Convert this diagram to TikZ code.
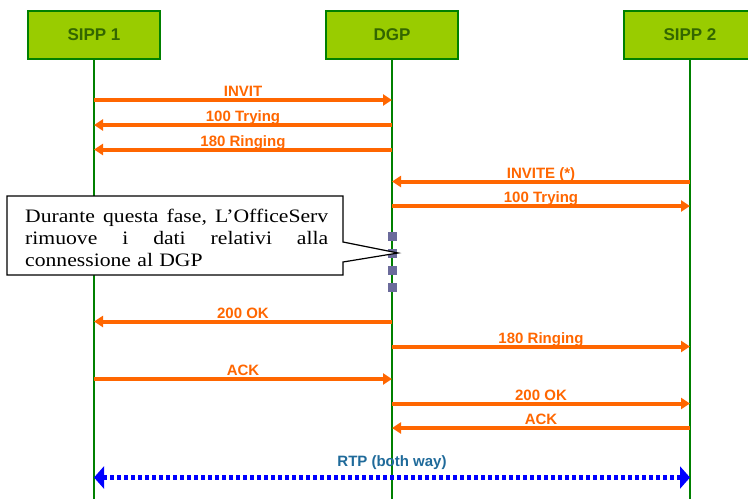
\documentclass[tikz,border=0pt]{standalone}
\usepackage{fontspec}
\setmainfont{Liberation Sans}
\newfontfamily\notefont[FakeStretch=1.14]{Liberation Serif}
\usetikzlibrary{arrows.meta}

\definecolor{boxfill}{HTML}{99CC00}
\definecolor{lifegreen}{HTML}{008000}
\definecolor{titlegreen}{HTML}{336600}
\definecolor{msgorange}{HTML}{FF6600}
\definecolor{rtpblue}{HTML}{0000FF}
\definecolor{rtptext}{HTML}{1F6A9A}
\definecolor{markslate}{HTML}{6B6B9B}

% one message between two lifelines at height #3
\newcommand\sendmsg[5]{%
  \draw[msg] (#1.south |- 0,#3) -- (#2.south |- 0,#3)
    node[midway, msglabel] (#5) {#4};}

\begin{document}
\begin{tikzpicture}[x=1pt, y=-1pt,
  entity/.style={draw=lifegreen, line width=2.5pt, fill=boxfill,
    minimum width=132pt, minimum height=48pt, inner sep=0pt,
    font=\fontsize{17}{20}\selectfont\bfseries, text=titlegreen},
  lifeline/.style={draw=lifegreen, line width=2.5pt},
  msg/.style={draw=msgorange, line width=4pt,
    -{Triangle[length=9pt,width=11pt]}},
  msglabel/.style={font=\fontsize{15}{17}\selectfont\bfseries,
    text=msgorange, anchor=base, inner sep=0pt, yshift=3.5pt},
  rtp/.style={draw=rtpblue, line width=5pt, dash pattern=on 4pt off 3pt,
    {Triangle[length=10pt,width=22pt]}-{Triangle[length=10pt,width=22pt]}},
  marker/.style={fill=markslate, minimum size=9pt, inner sep=0pt},
  notebox/.style={fill=white, draw=black, line width=1.2pt, line join=miter}]

\useasboundingbox (0,0) rectangle (748,499);
\clip (0,0) rectangle (748,499);

% participants
\node[entity] (s1)  at (94,35)  {SIPP 1};
\node[entity] (dgp) at (392,35) {DGP};
\node[entity] (s2)  at (690,35) {SIPP 2};

% lifelines
\coordinate (s1end)  at (s1.south |- 0,499);
\coordinate (dgpend) at (dgp.south |- 0,499);
\coordinate (s2end)  at (s2.south |- 0,499);
\draw[lifeline] (s1.south) -- (s1end);
\draw[lifeline] (dgp.south) -- (dgpend);
\draw[lifeline] (s2.south) -- (s2end);

% first call leg
\sendmsg{s1}{dgp}{100}{INVIT}{l1}
\sendmsg{dgp}{s1}{125}{100 Trying}{l2}
\sendmsg{dgp}{s1}{149.5}{180 Ringing}{l3}
\sendmsg{s2}{dgp}{181.5}{INVITE (*)}{l4}
\sendmsg{dgp}{s2}{206}{100 Trying}{l5}

% pause on the DGP lifeline
\node[marker] (m1) at (392,236) {};
\node[marker] (m2) at (392,253) {};
\node[marker] (m3) at (392,270) {};
\node[marker] (m4) at (392,287) {};

% note with its pointer
\coordinate (tip) at (398,253);
\draw[notebox] (7,196) -- (343,196) -- (343,242) -- (tip) -- (343,262)
  -- (343,275) -- (7,275) -- cycle;
\node[anchor=base west, text width=303pt, align=left, inner sep=0pt,
  font=\notefont\fontsize{19}{22}\selectfont] (note) at (25,222)
  {\makebox[303pt][l]{Durante\hfill questa\hfill fase,\hfill L’OfficeServ}\\
   \makebox[303pt][l]{rimuove\hfill i\hfill dati\hfill relativi\hfill alla}\\
   connessione al DGP};

% second part of the call
\sendmsg{dgp}{s1}{321.5}{200 OK}{l6}
\sendmsg{dgp}{s2}{346.5}{180 Ringing}{l7}
\sendmsg{s1}{dgp}{379}{ACK}{l8}
\sendmsg{dgp}{s2}{403.5}{200 OK}{l9}
\sendmsg{s2}{dgp}{428}{ACK}{l10}

% media stream
\draw[rtp] (s1.south |- 0,477.5) -- (s2.south |- 0,477.5)
  node[midway, anchor=base, yshift=11.5pt, inner sep=0pt,
    font=\fontsize{15}{17}\selectfont\bfseries, text=rtptext] (rtplabel)
  {RTP (both way)};
\end{tikzpicture}
\end{document}
